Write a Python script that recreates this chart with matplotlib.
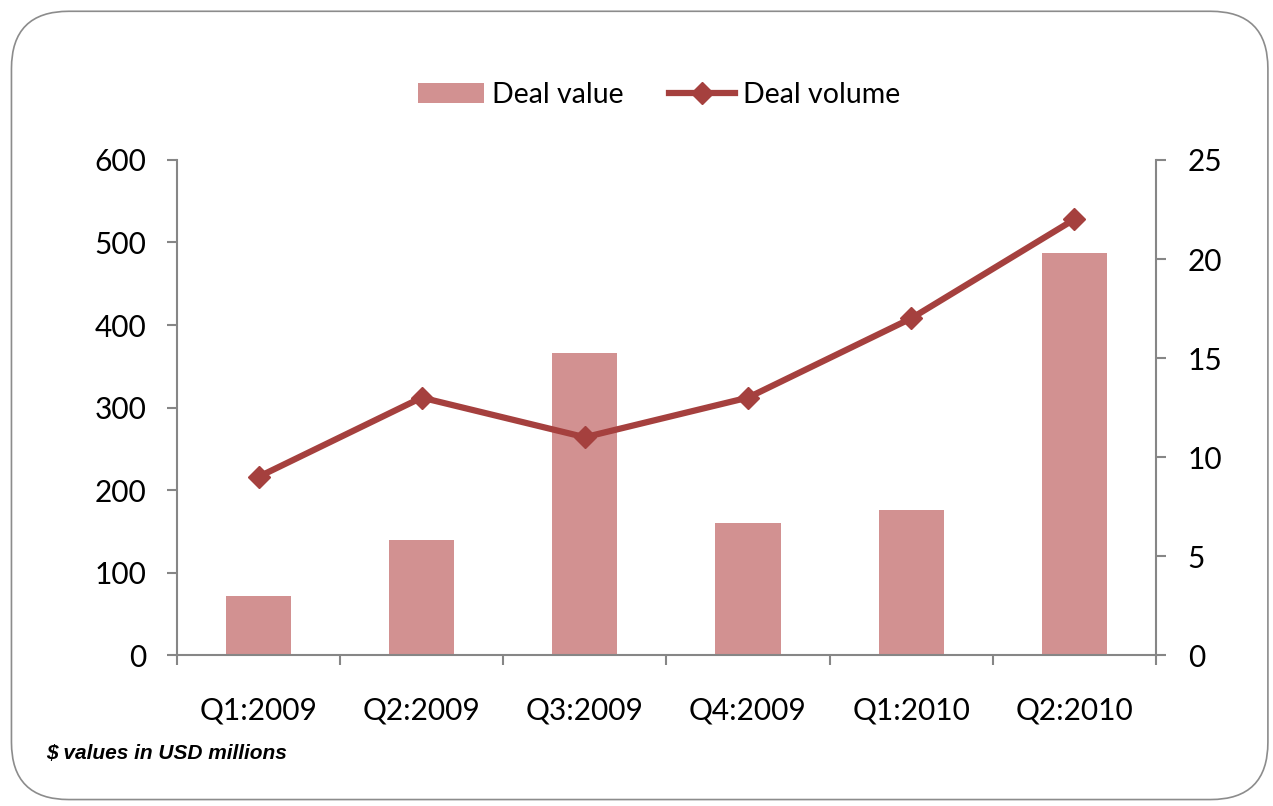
import matplotlib.pyplot as plt
import matplotlib as mpl
from matplotlib.patches import FancyBboxPatch
from matplotlib.lines import Line2D
from matplotlib.patches import Patch
import numpy as np

quarters = ["Q1:2009", "Q2:2009", "Q3:2009", "Q4:2009", "Q1:2010", "Q2:2010"]
deal_value = [72, 139, 366, 160, 176, 487]
deal_volume = [9, 13, 11, 13, 17, 22]

bar_color = "#D29191"
line_color = "#A5403E"
spine_color = "#868686"

plt.rcParams["font.family"] = ["Lato", "DejaVu Sans"]

fig = plt.figure(figsize=(12.73, 8.06), dpi=100)
# rounded frame round the whole chart
frame = FancyBboxPatch((0.009, 0.008), 0.987, 0.978, boxstyle="round,pad=0,rounding_size=0.045",
                       transform=fig.transFigure, facecolor="none", edgecolor="#8C8C8C",
                       linewidth=1.2, mutation_aspect=1273/806, zorder=-1)
fig.patches.append(frame)

ax = fig.add_axes([0.139, 0.1873, 0.769, 0.6142])
ax.set_facecolor("none")
x = np.arange(len(quarters))
ax.bar(x, deal_value, width=0.4, color=bar_color, zorder=2)
ax.set_xlim(-0.5, len(quarters) - 0.5)
ax.set_ylim(0, 600)
ax.set_yticks(range(0, 601, 100))
ax.set_xticks(x)
ax.set_xticklabels(quarters)
ax.set_xticks(np.arange(-0.5, len(quarters), 1), minor=True)
ax.tick_params(axis="x", which="major", length=0, pad=30, labelsize=21.5)
ax.tick_params(axis="x", which="minor", length=7, color=spine_color, width=1.5)
ax.tick_params(axis="y", length=7, color=spine_color, width=1.5, labelsize=21.5, pad=15)
for s in ["top", "right"]:
    ax.spines[s].set_visible(False)
for s in ["left", "bottom"]:
    ax.spines[s].set_color(spine_color)
    ax.spines[s].set_linewidth(1.5)

ax2 = ax.twinx()
ax2.plot(x, deal_volume, color=line_color, linewidth=4.5, marker="D", markersize=11, zorder=3)
ax2.set_ylim(0, 25)
ax2.set_yticks(range(0, 26, 5))
ax2.tick_params(axis="y", length=7, color=spine_color, width=1.5, labelsize=21.5, pad=16)
for s in ["top", "left", "bottom"]:
    ax2.spines[s].set_visible(False)
ax2.spines["right"].set_color(spine_color)
ax2.spines["right"].set_linewidth(1.5)

handles = [Patch(facecolor=bar_color, label="Deal value"),
           Line2D([0], [0], color=line_color, linewidth=4.5, marker="D", markersize=11, label="Deal volume")]
fig.legend(handles=handles, loc="center", bbox_to_anchor=(0.518, 0.882), ncol=2, frameon=False,
           fontsize=20.5, handlelength=2.3, handletextpad=0.3, columnspacing=1.6)

fig.text(0.036, 0.058, "$ values in USD millions", family=["Liberation Sans"], style="italic",
         weight="bold", fontsize=15)

fig.savefig("out.png", dpi=100)
